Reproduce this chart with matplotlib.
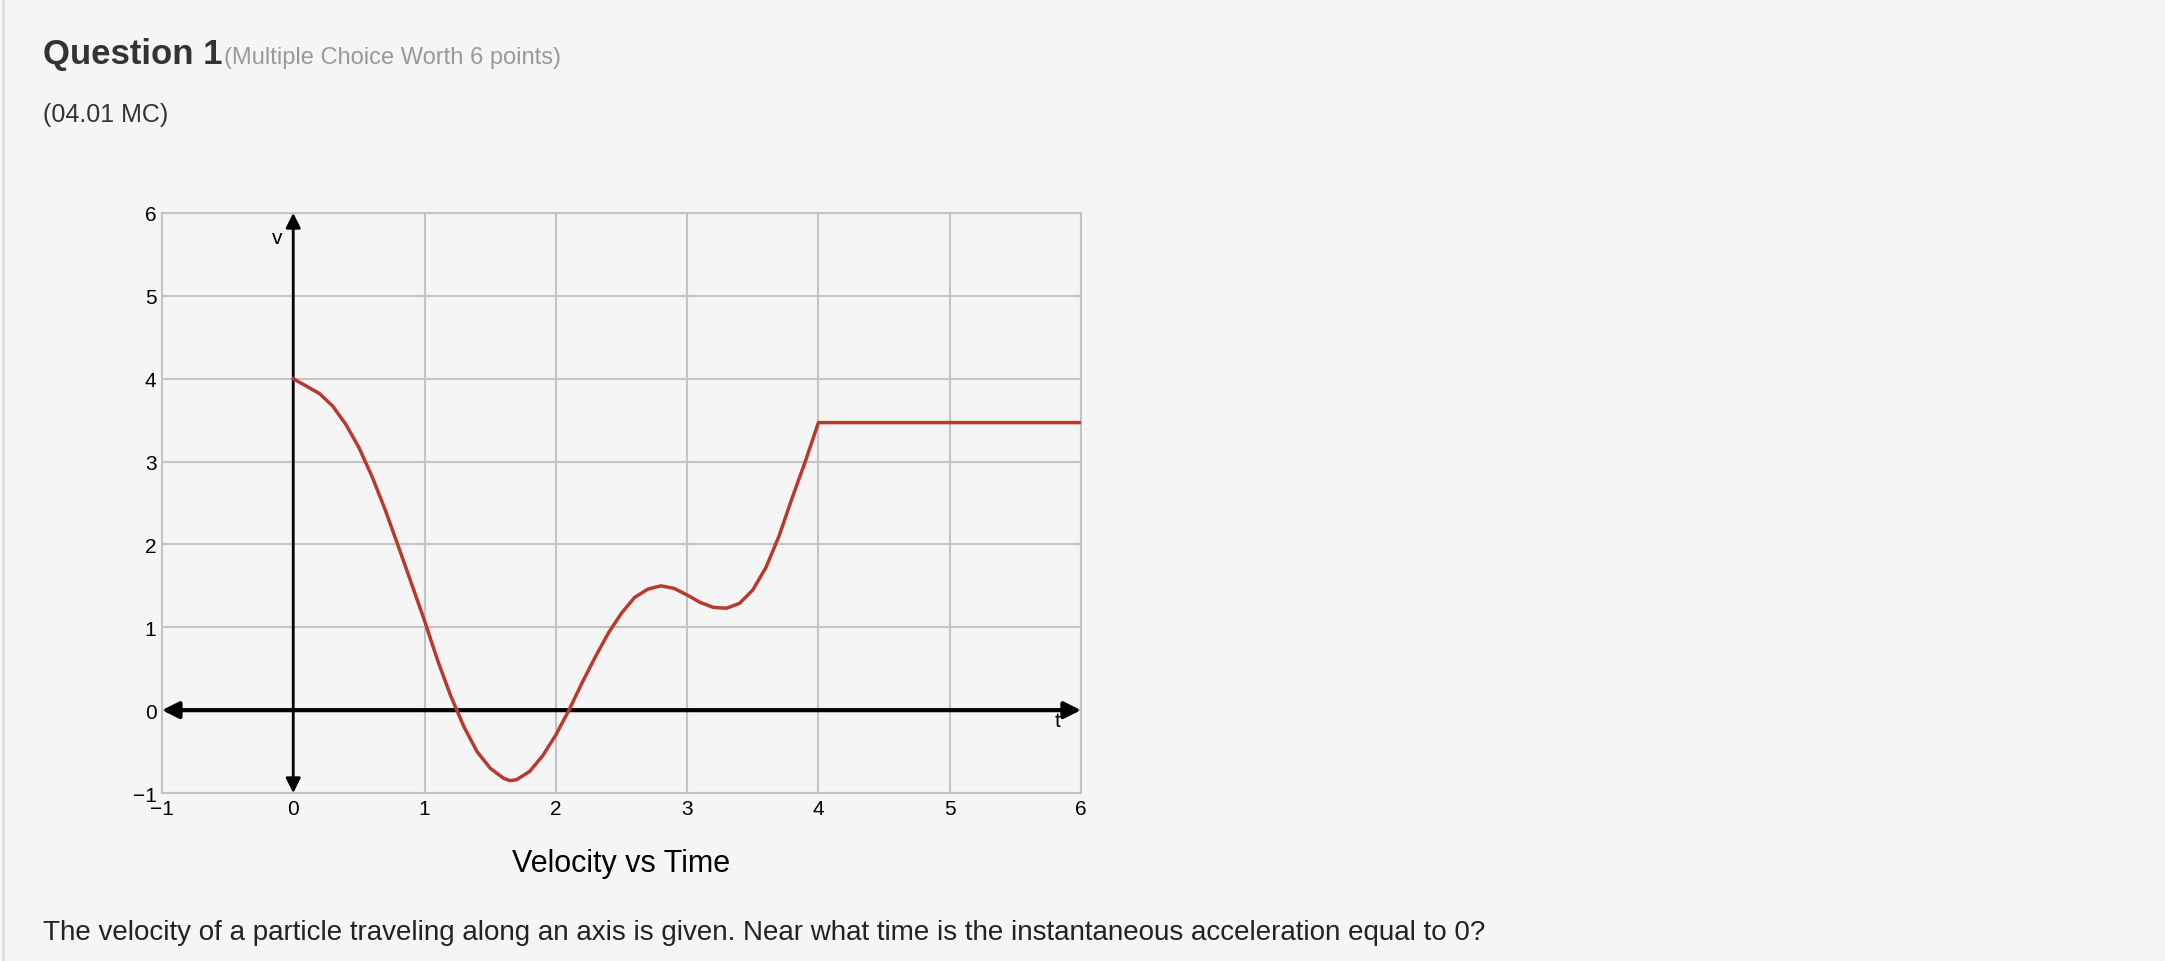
import matplotlib.pyplot as plt
import numpy as np

plt.rcParams['font.family'] = ['Liberation Sans', 'DejaVu Sans']

# velocity curve
t_vals = [0.0, 0.1, 0.2, 0.3, 0.4, 0.5, 0.6, 0.7, 0.8, 0.9, 1.0, 1.1, 1.2, 1.3,
          1.4, 1.5, 1.6, 1.65, 1.7, 1.8, 1.9, 2.0, 2.1, 2.2, 2.3, 2.4, 2.5,
          2.6, 2.7, 2.8, 2.9, 3.0, 3.1, 3.2, 3.3, 3.4, 3.5, 3.6, 3.7, 3.8,
          3.9, 4.0, 6.0]
v_vals = [4.0, 3.91, 3.82, 3.67, 3.45, 3.17, 2.82, 2.42, 1.98, 1.53, 1.08, 0.6,
          0.17, -0.2, -0.5, -0.7, -0.82, -0.85, -0.84, -0.74, -0.55, -0.3,
          0.0, 0.33, 0.64, 0.93, 1.17, 1.36, 1.46, 1.5, 1.47, 1.39, 1.3,
          1.24, 1.23, 1.29, 1.45, 1.72, 2.1, 2.56, 3.0, 3.47, 3.47]
x_ticks = [-1, 0, 1, 2, 3, 4, 5, 6]
y_ticks = [-1, 0, 1, 2, 3, 4, 5, 6]

fig = plt.figure(figsize=(21.65, 9.62), dpi=100)
fig.patch.set_facecolor('#f5f5f5')
fig.add_artist(plt.Line2D([0.0015, 0.0015], [0, 1], color='#dddddd', lw=2))

fig.text(0.0199, 0.943, 'Question 1', fontsize=25, fontweight='bold',
         color='#333333', va='center')
fig.text(0.1035, 0.940, '(Multiple Choice Worth 6 points)', fontsize=17,
         color='#999999', va='center')
fig.text(0.0199, 0.880, '(04.01 MC)', fontsize=18, color='#333333', va='center')
fig.text(0.0199, 0.030, 'The velocity of a particle traveling along an axis is given. '
         'Near what time is the instantaneous acceleration equal to 0?',
         fontsize=20, color='#222222', va='center')

ax = fig.add_axes([0.0748, 0.1746, 0.4245, 0.603])
ax.set_facecolor('#f5f5f5')
ax.set_xlim(-1, 6)
ax.set_ylim(-1, 6)
ax.set_xticks(x_ticks)
ax.set_yticks(y_ticks)
ax.grid(True, color='#c4c4c4', lw=1.5)
for s in ax.spines.values():
    s.set_color('#c4c4c4')
    s.set_linewidth(1.5)
ax.tick_params(length=0, labelsize=15, pad=4)

# axes arrows
ax.annotate('', xy=(6, 0), xytext=(-1, 0),
            arrowprops=dict(arrowstyle='<|-|>', color='black', lw=3, mutation_scale=25,
                            shrinkA=0, shrinkB=0))
ax.annotate('', xy=(0, 6), xytext=(0, -1),
            arrowprops=dict(arrowstyle='<|-|>', color='black', lw=2, mutation_scale=22,
                            shrinkA=0, shrinkB=0))
ax.text(-0.08, 5.7, 'v', fontsize=15, ha='right', va='center')
ax.text(5.82, -0.12, 't', fontsize=15, ha='center', va='center')

ax.plot(t_vals, v_vals, color='#b83a2e', lw=2.5, zorder=5)
ax.set_title('Velocity vs Time', fontsize=22, y=-0.135, pad=0)

fig.savefig('out.png', dpi=100, facecolor=fig.get_facecolor())
